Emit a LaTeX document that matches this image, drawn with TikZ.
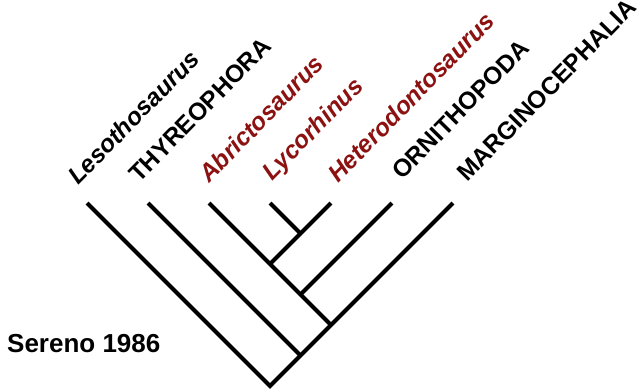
\documentclass[tikz,border=0pt]{standalone}
\usepackage{fontspec}
\setmainfont{Liberation Sans}
\definecolor{genred}{RGB}{140,18,18}
\begin{document}
\begin{tikzpicture}[x=1pt,y=-1pt,
  branch/.style={line width=4pt,black,line cap=butt,line join=miter},
  taxon/.style={font=\fontsize{24.5}{28}\selectfont\bfseries,rotate=45.5,anchor=base west,inner sep=0pt},
  genus/.style={taxon,font=\fontsize{24.5}{28}\selectfont\bfseries\itshape,text=genred}]
\useasboundingbox (0,0) rectangle (643,389);
% tips
\coordinate (t1) at (87,203);
\coordinate (t2) at (148,203);
\coordinate (t3) at (209,203);
\coordinate (t4) at (270,203);
\coordinate (t5) at (331,203);
\coordinate (t6) at (392,203);
\coordinate (t7) at (453,203);
% internal nodes
\coordinate (n1) at (300.5,233.5);
\coordinate (n2) at (270,264);
\coordinate (n3) at (300.5,294.5);
\coordinate (n4) at (331,325);
\coordinate (n5) at (300.5,355.5);
\coordinate (root) at (270,386);
% branches
\draw[branch] (t1) -- (root) -- (n5) -- (n4) -- (t7);
\draw[branch] (t2) -- (n5);
\draw[branch] (t3) -- (n2) -- (n3) -- (n4);
\draw[branch] (t6) -- (n3);
\draw[branch] (n2) -- (n1) -- (t5);
\draw[branch] (t4) -- (n1);
% labels
\node[genus,text=black] (l1) at (78,186) {Lesothosaurus};
\node[taxon] (l2) at (139,184) {THYREOPHORA};
\node[genus] (l3) at (209,184) {Abrictosaurus};
\node[genus] (l4) at (272,182) {Lycorhinus};
\node[genus] (l5) at (338,184) {Heterodontosaurus};
\node[taxon] (l6) at (402,181) {ORNITHOPODA};
\node[taxon] (l7) at (467,183) {MARGINOCEPHALIA};
\node[font=\fontsize{26}{30}\selectfont\bfseries,anchor=base west,inner sep=0pt] (ref) at (7,352) {Sereno 1986};
\end{tikzpicture}
\end{document}
